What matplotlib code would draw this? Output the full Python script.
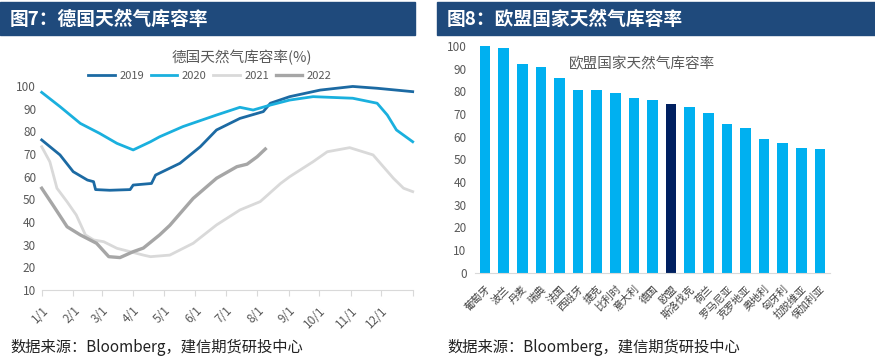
import matplotlib
matplotlib.use("Agg")
import matplotlib.pyplot as plt
from matplotlib.patches import Rectangle

plt.rcParams['font.family'] = ['Noto Sans CJK SC', 'DejaVu Sans']

# left chart: German gas storage fill rate (%), by day of year
doy_2019 = [0, 18, 31, 45, 51, 53, 67, 87, 90, 108, 112, 136, 156, 172, 195, 218, 225, 244, 274, 306, 330, 365]
val_2019 = [76.2, 69.6, 62.2, 58.5, 57.8, 54.3, 54.0, 54.3, 56.3, 57.0, 60.7, 65.9, 73.2, 80.6, 85.7, 88.7, 92.4, 95.3, 98.2, 99.8, 99.0, 97.5]

doy_2020 = [0, 18, 38, 57, 74, 90, 107, 116, 139, 172, 195, 208, 225, 244, 267, 306, 330, 340, 349, 365]
val_2020 = [97.2, 90.9, 83.5, 79.1, 74.7, 71.8, 75.4, 77.6, 82.1, 87.2, 90.6, 89.4, 91.6, 93.8, 95.3, 94.6, 92.4, 87.2, 80.6, 75.4]

doy_2021 = [0, 8, 15, 25, 34, 43, 51, 61, 74, 87, 100, 107, 126, 149, 172, 195, 215, 235, 244, 267, 281, 303, 326, 346, 356, 365]
val_2021 = [73.2, 66.6, 54.9, 48.9, 43.1, 34.3, 32.1, 31.3, 28.4, 26.9, 25.4, 24.7, 25.4, 30.6, 38.7, 45.3, 49.0, 57.0, 60.0, 66.6, 71.0, 72.8, 69.6, 59.3, 54.9, 53.4]

doy_2022 = [0, 11, 25, 38, 54, 66, 77, 90, 100, 116, 126, 149, 172, 192, 202, 212, 220]
val_2022 = [54.9, 47.5, 37.9, 34.3, 30.6, 24.7, 24.3, 26.9, 28.5, 34.3, 38.5, 50.4, 59.3, 64.4, 65.5, 68.8, 72.2]

month_doy = [0, 31, 59, 90, 120, 151, 181, 212, 243, 273, 304, 334]
month_labels = ['1/1', '2/1', '3/1', '4/1', '5/1', '6/1', '7/1', '8/1', '9/1', '10/1', '11/1', '12/1']

# right chart: EU countries gas storage fill rate (%)
countries = ['葡萄牙', '波兰', '丹麦', '瑞典', '法国', '西班牙', '捷克', '比利时', '意大利', '德国',
             '欧盟', '斯洛伐克', '荷兰', '罗马尼亚', '克罗地亚', '奥地利', '匈牙利', '拉脱维亚', '保加利亚']
fill_rate = [100.0, 99.1, 91.9, 90.9, 85.9, 80.7, 80.7, 79.4, 76.9, 76.2,
             74.4, 73.0, 70.3, 65.5, 63.7, 58.8, 57.3, 55.1, 54.7]

HEADER = '#1F4A7C'
TICK = '#595959'
W, H = 875, 363

fig = plt.figure(figsize=(W / 100, H / 100), dpi=100)

# header bars
for x0, x1, txt in [(0, 415, '图7：德国天然气库容率'), (437, 875, '图8：欧盟国家天然气库容率')]:
    fig.patches.append(Rectangle((x0 / W, 1 - 35 / H), (x1 - x0) / W, 33 / H,
                                 transform=fig.transFigure, color=HEADER, zorder=0))
    fig.text((x0 + 10) / W, 1 - 19 / H, txt, color='white', fontsize=13.5,
             fontweight='bold', va='center', ha='left')

# source lines
for x0 in (10, 447):
    fig.text(x0 / W, 1 - 347 / H, '数据来源：Bloomberg，建信期货研投中心', color='#222222',
             fontsize=11, va='center', ha='left', style='italic')

# ---- left chart
ax1 = fig.add_axes([41.7 / W, 1 - 290 / H, 371 / W, 204 / H])
ax1.plot(doy_2019, val_2019, color='#1C6AA3', lw=2.0, label='2019')
ax1.plot(doy_2020, val_2020, color='#1AB0DE', lw=2.0, label='2020')
ax1.plot(doy_2021, val_2021, color='#D9D9D9', lw=2.0, label='2021')
ax1.plot(doy_2022, val_2022, color='#A6A6A6', lw=2.4, label='2022')
ax1.set_xlim(0, 365)
ax1.set_ylim(10, 100)
ax1.set_yticks(range(10, 101, 10))
ax1.set_xticks(month_doy + [365])
ax1.set_xticklabels(month_labels + [''], rotation=45, ha='right', rotation_mode='anchor')
for s in ('top', 'right', 'left'):
    ax1.spines[s].set_visible(False)
ax1.spines['bottom'].set_color('#D9D9D9')
ax1.tick_params(axis='y', length=0, labelsize=8.5, labelcolor=TICK, pad=4)
ax1.tick_params(axis='x', length=4, color='#D9D9D9', labelsize=8.5, labelcolor=TICK, pad=6)
for line in ax1.get_lines():
    line.set_clip_on(False)
ax1.legend(loc='center', bbox_to_anchor=((210 - 41.7) / 371, (290 - 76) / 204), ncol=4,
           frameon=False, fontsize=8, handlelength=2.4, columnspacing=0.6,
           handletextpad=0.4, labelcolor=TICK)
fig.text(242 / W, 1 - 57 / H, '德国天然气库容率(%)', color='#595959', fontsize=10.5,
         ha='center', va='center')

# ---- right chart
ax2 = fig.add_axes([475 / W, 1 - 272.7 / H, 355 / W, 226.7 / H])
colors = ['#002060' if c == '欧盟' else '#00B0F0' for c in countries]
ax2.bar(range(len(countries)), fill_rate, width=0.57, color=colors)
ax2.set_xlim(-0.537, len(countries) - 1 + 0.537)
ax2.set_ylim(0, 100)
ax2.set_yticks(range(0, 101, 10))
ax2.set_xticks(range(len(countries)))
ax2.set_xticklabels(countries, rotation=45, ha='right', rotation_mode='anchor')
for s in ('top', 'right', 'left'):
    ax2.spines[s].set_visible(False)
ax2.spines['bottom'].set_color('#D9D9D9')
ax2.tick_params(axis='y', length=0, labelsize=8.5, labelcolor=TICK, pad=6)
ax2.tick_params(axis='x', length=0, labelsize=7.5, labelcolor='#404040', pad=8)
ax2.text(0.47, 0.92, '欧盟国家天然气库容率', transform=ax2.transAxes, color='#595959',
         fontsize=10.5, ha='center', va='center')

fig.savefig('out.png', dpi=100)
